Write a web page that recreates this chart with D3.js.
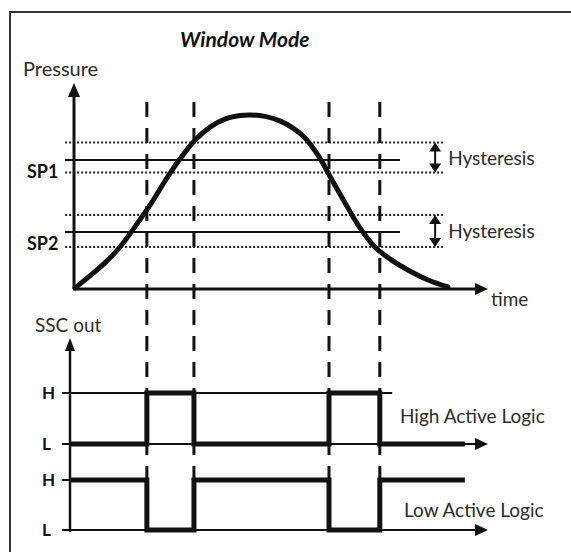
<!DOCTYPE html>
<html><head><meta charset="utf-8">
<script src="https://cdn.jsdelivr.net/npm/d3@7"></script>
<style>body{margin:0;background:#fff} svg{display:block}</style>
</head><body>
<script>
// ---- data (time units 0..100, pressure units 0..100) ----
const timeSamples    = [0, 3.6, 7.3, 10.9, 14.5, 18.2, 21.8, 25.4, 29.1, 32.7, 36.3, 40.0, 42.4, 46.0, 49.6, 52.8, 55.7, 58.8, 61.7, 65.4, 69.0, 72.6, 76.3, 80.6, 85.5, 90.3];
const pressureValues = [0, 5.9, 12.4, 20.0, 29.8, 40.5, 52.2, 62.9, 72.2, 78.5, 82.4, 84.1, 84.4, 83.7, 81.5, 78.0, 73.2, 64.9, 54.6, 41.5, 29.3, 20.0, 14.1, 8.8, 3.9, 0.5];
const setpointNames  = ["SP1", "SP2"];
const setpointValues = [62.4, 27.3];
const hysteresisLow  = [56.3, 20.0];
const hysteresisHigh = [71.0, 35.6];
const switchTimes    = [17.4, 28.8, 61.5, 73.8];
const highActiveStates = ["L", "H", "L", "H", "L"];
const lowActiveStates  = ["H", "L", "H", "L", "H"];
const logicLevels    = ["L", "H"];
const channelNames   = ["High Active Logic", "Low Active Logic"];
const signalEndTime  = 94.4;
const thresholdStart = -2.4, dottedEnd = 89.1, solidEnd = 78.7, highLineEnd = 76.8, hystArrowTime = 87.2;

const W = 571, H = 552;
const svg = d3.select("body").append("svg").attr("width", W).attr("height", H);
const ink = "#111", txt = "#2b2b2b";
const font = "Lato, 'Open Sans', sans-serif";

const x = d3.scaleLinear().domain([0, 100]).range([75, 488]);
const y = d3.scaleLinear().domain([0, 100]).range([288, 83]);
const yLogic = [
  d3.scaleOrdinal().domain(logicLevels).range([444, 393]),
  d3.scaleOrdinal().domain(logicLevels).range([530, 480])
];
const lowerAxisX = x(0) - 5;

// frame
svg.append("path").attr("d", `M10,${H} V12 H${W}`).attr("fill", "none").attr("stroke", "#333").attr("stroke-width", 2);

// title
svg.append("text").attr("x", 180).attr("y", 47).text("Window Mode")
  .attr("font-family", font).attr("font-weight", "bold").attr("font-style", "italic").attr("font-size", 21).attr("fill", ink);
svg.append("text").attr("x", 23).attr("y", 76).text("Pressure")
  .attr("font-family", font).attr("font-size", 20).attr("fill", txt);

// hysteresis dotted lines
const bands = setpointNames.map((n, i) => ({name: n, sp: setpointValues[i], lo: hysteresisLow[i], hi: hysteresisHigh[i]}));
bands.forEach(b => {
  [b.lo, b.hi].forEach(v => {
    svg.append("line").attr("x1", x(thresholdStart)).attr("x2", x(dottedEnd)).attr("y1", y(v)).attr("y2", y(v))
      .attr("stroke", "#222").attr("stroke-width", 2).attr("stroke-dasharray", "2,2");
  });
  svg.append("line").attr("x1", x(thresholdStart)).attr("x2", x(solidEnd)).attr("y1", y(b.sp)).attr("y2", y(b.sp))
    .attr("stroke", ink).attr("stroke-width", 2);
  svg.append("text").attr("x", 27).attr("y", y(b.sp) + 18).text(b.name)
    .attr("font-family", font).attr("font-weight", "bold").attr("font-size", 18).attr("fill", ink);
  const ax = x(hystArrowTime), t = y(b.hi), bt = y(b.lo);
  svg.append("line").attr("x1", ax).attr("x2", ax).attr("y1", t + 6).attr("y2", bt - 6).attr("stroke", ink).attr("stroke-width", 2);
  svg.append("path").attr("d", `M${ax},${t} L${ax - 6},${t + 9} L${ax + 6},${t + 9}Z`).attr("fill", ink);
  svg.append("path").attr("d", `M${ax},${bt} L${ax - 6},${bt - 9} L${ax + 6},${bt - 9}Z`).attr("fill", ink);
  svg.append("text").attr("x", ax + 13).attr("y", (t + bt) / 2 + 7).text("Hysteresis")
    .attr("font-family", font).attr("font-size", 19).attr("fill", txt);
});

// dashed switching lines
svg.selectAll(".sw").data(switchTimes).enter().append("line")
  .attr("x1", d => x(d)).attr("x2", d => x(d)).attr("y1", 102).attr("y2", 532)
  .attr("stroke", ink).attr("stroke-width", 3).attr("stroke-dasharray", "15,11");

// pressure curve
const pts = timeSamples.map((t, i) => [t, pressureValues[i]]);
svg.append("path").datum(pts)
  .attr("d", d3.line().x(d => x(d[0])).y(d => y(d[1])).curve(d3.curveCatmullRom.alpha(0.5)))
  .attr("fill", "none").attr("stroke", ink).attr("stroke-width", 5).attr("stroke-linecap", "round");

// pressure axes
svg.append("line").attr("x1", x(0) - 1).attr("x2", x(0) - 1).attr("y1", y(0) + 1).attr("y2", y(100) + 10).attr("stroke", ink).attr("stroke-width", 3);
svg.append("path").attr("d", `M${x(0) - 1},${y(100)} l-6,14 l12,0Z`).attr("fill", ink);
svg.append("line").attr("x1", x(0) - 2).attr("x2", x(100) - 10).attr("y1", y(0) + 1).attr("y2", y(0) + 1).attr("stroke", ink).attr("stroke-width", 3);
svg.append("path").attr("d", `M${x(100)},${y(0) + 1} l-13,-6 l0,12Z`).attr("fill", ink);
svg.append("text").attr("x", x(100) + 3).attr("y", 306).text("time")
  .attr("font-family", font).attr("font-size", 19).attr("fill", txt);

// lower panel
svg.append("text").attr("x", 35).attr("y", 332).text("SSC out")
  .attr("font-family", font).attr("font-size", 19).attr("fill", txt);
svg.append("line").attr("x1", lowerAxisX).attr("x2", lowerAxisX).attr("y1", 532).attr("y2", 348).attr("stroke", ink).attr("stroke-width", 2.5);
svg.append("path").attr("d", `M${lowerAxisX},338 l-5,13 l10,0Z`).attr("fill", ink);

const states = [highActiveStates, lowActiveStates];
states.forEach((st, c) => {
  const ys = yLogic[c];
  svg.append("line").attr("x1", 62).attr("x2", c === 0 ? x(highLineEnd) : lowerAxisX).attr("y1", ys("H")).attr("y2", ys("H"))
    .attr("stroke", ink).attr("stroke-width", 2);
  svg.append("line").attr("x1", 62).attr("x2", x(100) - 10).attr("y1", ys("L")).attr("y2", ys("L"))
    .attr("stroke", ink).attr("stroke-width", 2);
  svg.append("path").attr("d", `M${x(100)},${ys("L")} l-13,-6 l0,12Z`).attr("fill", ink);
  logicLevels.forEach(l => {
    svg.append("text").attr("x", 42).attr("y", ys(l) + 6).text(l)
      .attr("font-family", font).attr("font-weight", "bold").attr("font-size", 17).attr("fill", ink);
  });
  const sig = [{px: lowerAxisX, s: st[0]}]
    .concat(switchTimes.map((t, i) => ({px: x(t), s: st[i + 1]})))
    .concat([{px: x(signalEndTime), s: st[st.length - 1]}]);
  svg.append("path").datum(sig)
    .attr("d", d3.line().x(d => d.px).y(d => ys(d.s)).curve(d3.curveStepAfter))
    .attr("fill", "none").attr("stroke", ink).attr("stroke-width", 5);
});
svg.append("text").attr("x", 400).attr("y", 423).text(channelNames[0])
  .attr("font-family", font).attr("font-size", 19).attr("fill", txt);
svg.append("text").attr("x", 404).attr("y", 517).text(channelNames[1])
  .attr("font-family", font).attr("font-size", 19).attr("fill", txt);
</script>
</body></html>
